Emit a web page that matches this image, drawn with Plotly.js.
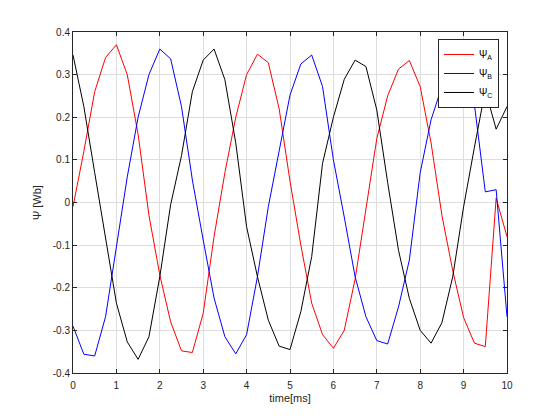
<!DOCTYPE html>
<html>
<head>
<meta charset="utf-8">
<script src="https://cdn.plot.ly/plotly-3.0.1.min.js"></script>
<style>html,body{margin:0;padding:0;background:#fff;}#chart{width:560px;height:420px;}</style>
</head>
<body>
<div id="chart"></div>
<script>
const time = [0,0.25,0.5,0.75,1,1.25,1.5,1.75,2,2.25,2.5,2.75,3,3.25,3.5,3.75,4,4.25,4.5,4.75,5,5.25,5.5,5.75,6,6.25,6.5,6.75,7,7.25,7.5,7.75,8,8.25,8.5,8.75,9,9.25,9.5,9.75,10];
const psiA = [-0.01,0.12,0.26,0.34,0.37,0.30,0.16,-0.03,-0.17,-0.28,-0.348,-0.352,-0.26,-0.08,0.07,0.20,0.30,0.348,0.328,0.22,0.05,-0.10,-0.236,-0.31,-0.342,-0.30,-0.18,-0.01,0.15,0.25,0.313,0.333,0.272,0.14,-0.03,-0.16,-0.27,-0.33,-0.338,0.01,-0.08];
const psiB = [-0.29,-0.356,-0.36,-0.268,-0.104,0.06,0.20,0.30,0.36,0.337,0.225,0.053,-0.088,-0.224,-0.315,-0.355,-0.31,-0.174,-0.01,0.125,0.252,0.325,0.346,0.272,0.10,-0.034,-0.174,-0.268,-0.324,-0.332,-0.245,-0.135,0.07,0.194,0.272,0.30,0.31,0.229,0.025,0.03,-0.268];
const psiC = [0.346,0.225,0.07,-0.08,-0.236,-0.327,-0.368,-0.315,-0.174,-0.005,0.11,0.26,0.334,0.36,0.288,0.14,-0.057,-0.174,-0.276,-0.337,-0.345,-0.256,-0.127,0.092,0.20,0.289,0.334,0.319,0.217,0.047,-0.112,-0.225,-0.30,-0.33,-0.282,-0.174,-0.01,0.13,0.264,0.172,0.225];
const seriesNames = ["Ψ<sub>A</sub>","Ψ<sub>B</sub>","Ψ<sub>C</sub>"];
const xTickVals = [0,1,2,3,4,5,6,7,8,9,10];
const xTickText = ["0","1","2","3","4","5","6","7","8","9","10"];
const yTickVals = [-0.4,-0.3,-0.2,-0.1,0,0.1,0.2,0.3,0.4];
const yTickText = ["-0.4","-0.3","-0.2","-0.1","0","0.1","0.2","0.3","0.4"];

const colors = ["#ff0000","#0000ff","#000000"];
const ys = [psiA, psiB, psiC];
const traces = ys.map((y,i)=>({
  x: time, y: y, type: "scatter", mode: "lines", name: seriesNames[i],
  line: {color: colors[i], width: 1}
}));
const axisCommon = {
  showline: true, linecolor: "#262626", linewidth: 1, mirror: "ticks",
  ticks: "inside", ticklen: 4, tickcolor: "#262626", tickwidth: 1,
  showgrid: true, gridcolor: "#dedede", gridwidth: 1, zeroline: false,
  tickfont: {family: "Liberation Sans, Arial, sans-serif", size: 10, color: "#262626"}
};
const layout = {
  width: 560, height: 420,
  margin: {l: 73, r: 53, t: 32, b: 47},
  paper_bgcolor: "#ffffff", plot_bgcolor: "#ffffff",
  font: {family: "Liberation Sans, Arial, sans-serif", size: 10, color: "#262626"},
  showlegend: true,
  legend: {x: 0.9816, y: 0.9795, xanchor: "right", yanchor: "top",
    bordercolor: "#262626", borderwidth: 1, bgcolor: "#ffffff",
    font: {family: "Liberation Sans, Arial, sans-serif", size: 10, color: "#000"},
    tracegroupgap: 0, itemwidth: 30},
  xaxis: Object.assign({}, axisCommon, {
    range: [0, 10], tickmode: "array", tickvals: xTickVals, ticktext: xTickText,
    ticklabelstandoff: 3,
    title: {text: "time[ms]", font: {size: 11, color: "#262626"}, standoff: 4}
  }),
  yaxis: Object.assign({}, axisCommon, {
    range: [-0.4, 0.4], tickmode: "array", tickvals: yTickVals, ticktext: yTickText,
    title: {text: "Ψ [Wb]", font: {size: 11, color: "#262626"}, standoff: 8}
  })
};
Plotly.newPlot("chart", traces, layout, {displayModeBar: false, staticPlot: true});
</script>
</body>
</html>
